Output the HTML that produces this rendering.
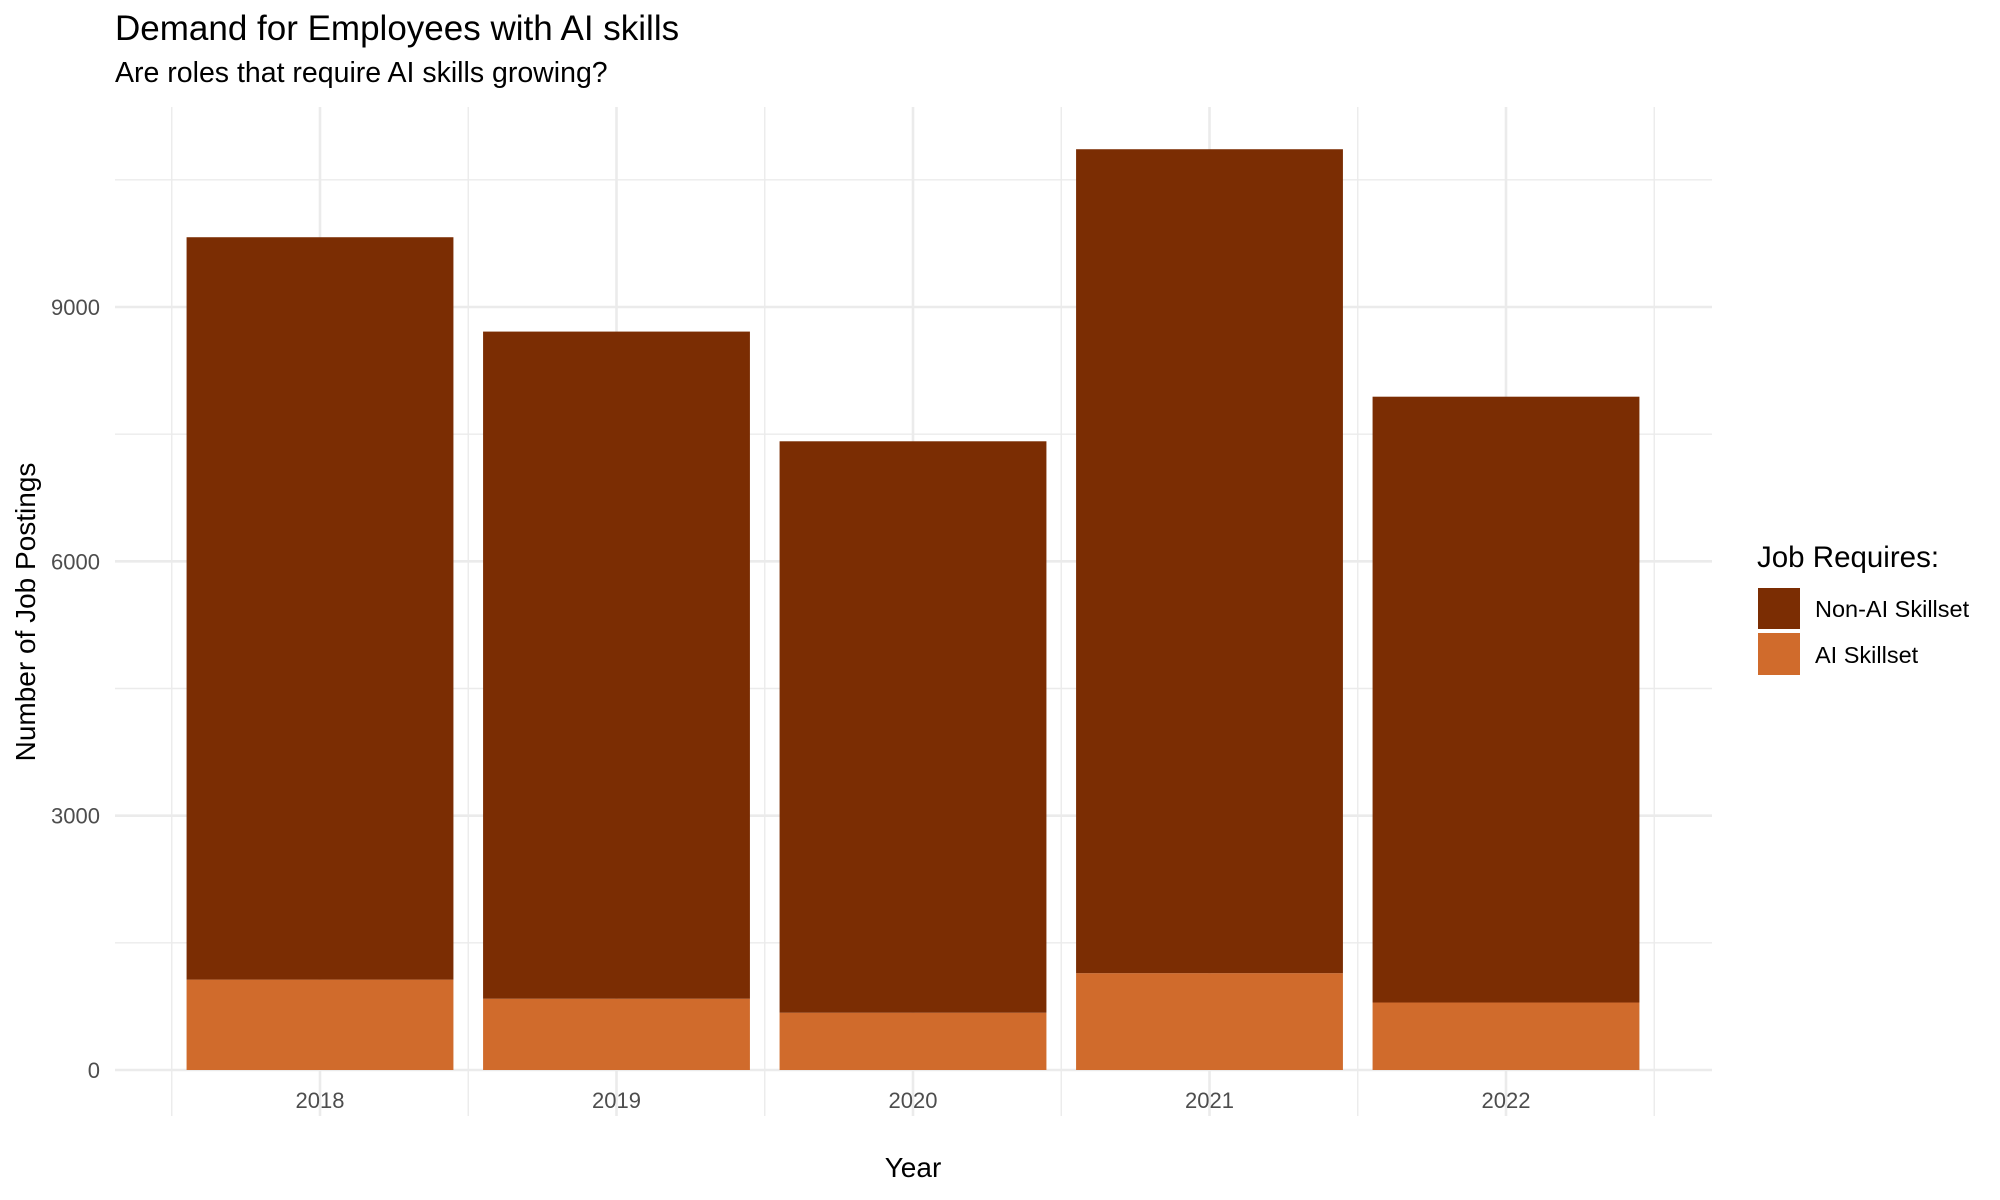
<!DOCTYPE html>
<html><head><meta charset="utf-8"><style>
html,body{margin:0;padding:0;background:#fff;}
svg{display:block;font-family:"Liberation Sans",Arial,sans-serif;}
</style></head><body>
<svg id="chart" width="2000" height="1200">
<text x="115" y="40" font-size="35" fill="#000">Demand for Employees with AI skills</text>
<text x="115" y="82" font-size="28.5" fill="#000">Are roles that require AI skills growing?</text>
<g id="grid"></g><g id="bars"></g><g id="axes"></g>
<text x="913" y="1177" font-size="28" text-anchor="middle" fill="#000">Year</text>
<text transform="translate(35,612) rotate(-90)" font-size="28" text-anchor="middle" fill="#000">Number of Job Postings</text>
<g>
<text x="1757" y="567" font-size="29.5" fill="#000">Job Requires:</text>
<rect x="1758" y="588" width="42" height="41" fill="#7B2D03"/>
<text x="1815" y="617" font-size="23.5" fill="#000">Non-AI Skillset</text>
<rect x="1758" y="633" width="42" height="42" fill="#D06B2C"/>
<text x="1815" y="663" font-size="23.5" fill="#000">AI Skillset</text>
</g>
</svg>
<script>
const years = ['2018','2019','2020','2021','2022'];
const aiSkill = [1066, 841, 676, 1142, 796];
const nonAiSkill = [8757, 7869, 6740, 9719, 7146];
const yTicks = [0, 3000, 6000, 9000];
const yMinor = [1500, 4500, 7500, 10500];

const NS='http://www.w3.org/2000/svg';
const L=115,R=1712,T=107,B=1116;
const y0=1070, pxPerUnit=763/9000;
const y=v=>y0-v*pxPerUnit;
const band=296.5, cx0=320;
const x=i=>cx0+i*band;
function mk(tag,attrs,parent){const e=document.createElementNS(NS,tag);for(const k in attrs)e.setAttribute(k,attrs[k]);document.getElementById(parent).appendChild(e);return e;}
yMinor.forEach(v=>{const e=mk('line',{x1:L,x2:R,y1:y(v),y2:y(v),stroke:'#ebebeb','stroke-width':1.4},'grid');

});
yTicks.forEach(v=>{const e=mk('line',{x1:L,x2:R,y1:y(v),y2:y(v),stroke:'#ebebeb','stroke-width':2.6},'grid');

});
for(let i=0;i<=years.length;i++){const xx=x(i)-band/2;const e=mk('line',{x1:xx,x2:xx,y1:T,y2:B,stroke:'#ebebeb','stroke-width':1.4},'grid');

}
years.forEach((yr,i)=>{const e=mk('line',{x1:x(i),x2:x(i),y1:T,y2:B,stroke:'#ebebeb','stroke-width':2.6},'grid');

});
const bw=band*0.9;
years.forEach((yr,i)=>{
 const a=mk('rect',{x:x(i)-bw/2,y:y(aiSkill[i]),width:bw,height:y(0)-y(aiSkill[i]),fill:'#D06B2C'},'bars');
 
 
 const tot=aiSkill[i]+nonAiSkill[i];
 const n=mk('rect',{x:x(i)-bw/2,y:y(tot),width:bw,height:y(aiSkill[i])-y(tot),fill:'#7B2D03'},'bars');
 
 
 const t=mk('text',{x:x(i),y:1108,'font-size':22,'text-anchor':'middle',fill:'#4d4d4d'},'axes');
 t.textContent=yr;
 
 
});
yTicks.forEach(v=>{const t=mk('text',{x:100,y:y(v)+8,'font-size':22,'text-anchor':'end',fill:'#4d4d4d'},'axes');
t.textContent=String(v);

});
</script>
</body></html>
